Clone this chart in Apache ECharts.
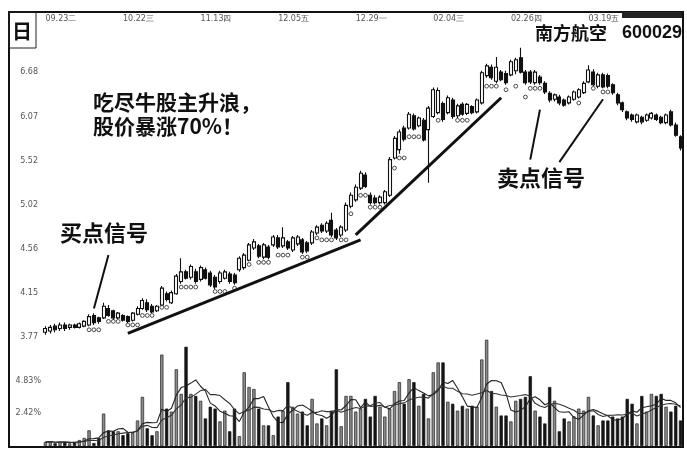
<!DOCTYPE html>
<html><head><meta charset="utf-8">
<script src="https://cdn.jsdelivr.net/npm/echarts@6.0.0/dist/echarts.min.js"></script>
<style>html,body{margin:0;padding:0;background:#fff}#c{width:687px;height:450px}</style>
</head><body><div id="c"></div>
<script>
// ---- data ----
const tickLabels = ['09.23二','10.22三','11.13四','12.05五','12.29一','02.04三','02.26四','03.19五'];
const labelStep = 16;
const priceTicks = [3.77, 4.15, 4.56, 5.02, 5.52, 6.07, 6.68];
const volTicks = [2.42, 4.83];
// [open, close, low, high]
const candles = [
[3.81,3.84,3.79,3.86],[3.82,3.85,3.80,3.87],[3.86,3.83,3.81,3.88],[3.84,3.87,3.82,3.89],[3.87,3.84,3.82,3.89],
[3.85,3.87,3.83,3.88],[3.87,3.85,3.84,3.88],[3.85,3.88,3.84,3.89],[3.86,3.90,3.85,3.91],[3.87,3.94,3.86,3.96],
[3.95,3.89,3.87,3.97],[3.93,3.90,3.88,3.94],[3.93,4.03,3.92,4.06],[4.01,3.95,3.94,4.04],[3.99,3.93,3.91,4.00],
[3.93,3.97,3.92,3.98],[3.95,3.91,3.90,3.96],[3.94,3.90,3.88,3.95],[3.91,3.97,3.90,3.98],[3.96,4.01,3.95,4.03],
[4.01,4.08,4.00,4.10],[4.06,4.00,3.98,4.09],[4.03,3.98,3.97,4.05],[3.99,4.03,3.98,4.04],[4.04,4.19,4.03,4.21],
[4.14,4.09,4.07,4.16],[4.06,4.15,4.05,4.17],[4.14,4.30,4.13,4.32],[4.25,4.34,4.23,4.47],[4.34,4.28,4.27,4.36],
[4.29,4.39,4.27,4.41],[4.34,4.25,4.23,4.37],[4.27,4.38,4.25,4.40],[4.36,4.28,4.27,4.38],[4.33,4.22,4.20,4.35],
[4.29,4.20,4.18,4.31],[4.25,4.33,4.23,4.35],[4.28,4.34,4.27,4.36],[4.32,4.25,4.23,4.34],[4.31,4.24,4.22,4.33],
[4.36,4.47,4.34,4.49],[4.38,4.50,4.36,4.52],[4.45,4.60,4.44,4.62],[4.57,4.63,4.55,4.66],[4.59,4.49,4.47,4.61],
[4.48,4.60,4.46,4.62],[4.58,4.48,4.46,4.60],[4.60,4.68,4.58,4.70],[4.67,4.58,4.56,4.70],[4.59,4.67,4.57,4.78],
[4.63,4.57,4.55,4.65],[4.55,4.67,4.53,4.69],[4.61,4.68,4.59,4.70],[4.65,4.53,4.51,4.67],[4.62,4.54,4.52,4.64],
[4.62,4.73,4.60,4.75],[4.72,4.78,4.70,4.80],[4.80,4.74,4.72,4.82],[4.74,4.82,4.72,4.84],[4.85,4.70,4.68,4.93],
[4.75,4.67,4.65,4.77],[4.70,4.78,4.68,4.80],[4.75,5.01,4.73,5.04],[5.00,5.12,4.98,5.15],[5.07,5.21,5.05,5.24],
[5.20,5.37,5.18,5.40],[5.35,5.22,5.20,5.38],[5.12,5.04,5.02,5.15],[5.09,5.04,5.02,5.12],[5.04,5.10,5.02,5.12],
[5.04,5.16,5.02,5.18],[5.12,5.53,5.10,5.56],[5.55,5.79,5.53,5.82],[5.65,5.87,5.60,5.90],[5.92,5.78,5.75,5.95],
[5.92,6.10,5.90,6.13],[6.08,5.91,5.89,6.11],[5.95,6.05,5.93,6.07],[6.02,5.77,5.75,6.05],[5.90,6.18,5.26,6.21],
[6.07,6.43,6.05,6.46],[6.12,6.42,6.10,6.46],[6.24,6.03,6.00,6.27],[6.12,6.32,6.10,6.35],[6.29,6.07,6.04,6.32],
[6.08,6.21,6.05,6.24],[6.23,6.10,6.08,6.26],[6.11,6.23,6.09,6.25],[6.20,6.12,6.10,6.22],[6.13,6.29,6.11,6.31],
[6.25,6.67,6.23,6.70],[6.63,6.77,6.60,6.80],[6.75,6.60,6.57,6.79],[6.55,6.75,6.52,6.90],[6.68,6.57,6.55,6.71],
[6.66,6.53,6.50,6.70],[6.64,6.83,6.62,6.86],[6.70,6.86,6.65,6.89],[6.89,6.68,6.66,7.04],[6.68,6.53,6.50,6.71],
[6.68,6.54,6.51,6.71],[6.53,6.68,6.50,6.71],[6.61,6.53,6.50,6.64],[6.52,6.40,6.37,6.55],[6.38,6.29,6.26,6.41],
[6.30,6.36,6.27,6.38],[6.33,6.25,6.22,6.36],[6.29,6.22,6.20,6.31],[6.25,6.33,6.23,6.35],[6.30,6.40,6.28,6.42],
[6.33,6.43,6.31,6.45],[6.39,6.52,6.37,6.55],[6.54,6.71,6.52,6.78],[6.68,6.50,6.48,6.72],[6.48,6.64,6.45,6.67],
[6.64,6.47,6.45,6.67],[6.63,6.48,6.45,6.66],[6.50,6.39,6.36,6.52],[6.36,6.25,6.22,6.39],[6.25,6.16,6.13,6.27],
[6.13,6.05,6.02,6.15],[6.09,6.03,6.00,6.11],[6.00,6.09,5.98,6.11],[6.06,6.00,5.97,6.08],[6.02,6.09,6.00,6.11],
[6.05,6.11,6.03,6.13],[6.09,6.03,6.01,6.11],[6.06,5.99,5.97,6.08],[5.99,6.09,5.97,6.11],[6.13,5.96,5.94,6.16],
[5.96,5.83,5.81,5.99],[5.81,5.67,5.64,5.83]
];
// turnover rate (%)
const volumes = [
0.29,0.36,0.2,0.3,0.3,0.2,0.3,0.44,0.6,1.16,
0.22,0.58,2.4,1.16,1.09,1.09,0.8,0.95,0.95,1.89,
3.64,1.31,0.8,1.09,6.77,2.77,2.55,5.68,3.86,7.35,
3.86,3.71,3.35,2.04,2.91,2.77,1.82,2.62,1.09,2.77,
0.73,5.46,4.37,4.22,2.77,1.53,1.53,0.8,2.18,2.62,
4.73,2.91,2.4,2.55,1.53,3.49,1.67,2.04,1.53,2.62,
5.68,1.46,3.71,3.71,2.55,2.77,3.49,2.18,3.71,2.91,
2.18,2.77,4.07,4.73,3.13,4.95,4.73,2.98,3.86,2.04,
5.46,6.19,6.19,3.28,3.13,2.62,2.98,2.77,2.98,2.91,
6.41,7.87,4.07,2.91,2.26,2.26,1.82,3.35,3.49,3.64,
5.17,2.62,2.18,1.67,4.37,3.35,1.09,2.04,1.82,2.2,
2.77,2.62,3.64,2.26,1.53,1.89,1.89,2.18,2.04,2.18,
3.49,3.13,1.67,3.71,2.55,3.86,3.71,3.86,2.91,2.55,
2.98,1.89
];
// stop-and-reverse dots [bar index, price]
const sarDots = [
[9,3.83],[10,3.83],[11,3.83],[13,3.90],[14,3.90],[15,3.90],[17,3.87],[18,3.87],[19,3.87],
[20,3.95],[21,3.95],[22,3.95],[24,4.02],[25,4.02],[28,4.20],[29,4.20],[30,4.20],[31,4.20],
[35,4.16],[36,4.16],[37,4.16],[39,4.19],[42,4.41],[44,4.43],[45,4.43],[46,4.43],
[48,4.50],[49,4.50],[50,4.50],[53,4.48],[54,4.48],[56,4.67],[57,4.65],[58,4.65],[59,4.65],
[61,4.65],[62,4.65],[63,4.92],[65,5.12],[66,5.12],[67,4.99],[68,4.99],[69,4.99],
[72,5.43],[73,5.55],[74,5.55],[75,5.81],[76,5.81],[77,5.81],[81,6.02],[85,6.02],[86,6.02],[87,6.02],
[91,6.48],[92,6.48],[93,6.48],[95,6.43],[97,6.48],[99,6.33],[100,6.45],[101,6.45],[102,6.45],
[110,6.25],[113,6.45],[115,6.40],[116,6.40]
];
// hand-drawn annotation strokes [bar index, price]
const annotationLines = [
  {from:[13,4.50], to:[10,4.01], width:2},
  {from:[17,3.80], to:[65,4.65], width:3},
  {from:[64,4.70], to:[94,6.32], width:3},
  {from:[102,6.16], to:[100,5.53], width:2},
  {from:[115,6.30], to:[106,5.50], width:2}
];
const stockName = '南方航空';
const stockCode = '600029';

// ---- build ----
const ln = Math.log;
const categories = candles.map((_, i) => String(i));
const candleData = candles.map(([o,c,l,h]) => [ln(o), ln(c), ln(l), ln(h)]);
const volData = volumes.map((v, i) => ({
  value: v,
  itemStyle: candles[i][1] >= candles[i][0]
    ? {color:'#8a8a8a', borderColor:'#222', borderWidth:0.7}
    : {color:'#151515', borderColor:'#151515', borderWidth:0.7}
}));
function ma(n) {
  return volumes.map((_, i) => {
    const s = Math.max(0, i - n + 1);
    let sum = 0;
    for (let k = s; k <= i; k++) sum += volumes[k];
    return +(sum / (i - s + 1)).toFixed(3);
  });
}
const lblFont = {fontSize:8, color:'#555', fontFamily:'DejaVu Sans'};

const chart = echarts.init(document.getElementById('c'), null, {renderer:'canvas'});
chart.setOption({
  animation:false,
  backgroundColor:'#ffffff',
  grid:[
    {left:43, right:4, top:30, height:315},
    {left:43, right:4, top:338, height:108}
  ],
  xAxis:[
    {type:'category', data:categories, gridIndex:0, position:'top', boundaryGap:true,
     axisLine:{show:false}, axisTick:{show:false}, splitLine:{show:false},
     axisLabel:Object.assign({
       interval:(i) => i % labelStep === 0,
       formatter:(v) => tickLabels[Number(v) / labelStep] || '',
       align:'left', margin:7}, lblFont)},
    {type:'category', data:categories, gridIndex:1, boundaryGap:true, show:false}
  ],
  yAxis:[
    {type:'value', gridIndex:0, min:1.31, max:1.99, scale:true,
     axisLine:{show:false}, axisTick:{show:false}, splitLine:{show:false},
     axisLabel:Object.assign({customValues:priceTicks.map(ln),
       formatter:(v) => Math.exp(v).toFixed(2), margin:5}, lblFont)},
    {type:'value', gridIndex:1, min:0, max:8,
     axisLine:{show:false}, axisTick:{show:false}, splitLine:{show:false},
     axisLabel:Object.assign({customValues:volTicks,
       formatter:(v) => v.toFixed(2) + '%', margin:2}, lblFont)}
  ],
  series:[
    {type:'candlestick', xAxisIndex:0, yAxisIndex:0, data:candleData, barWidth:3.5,
     itemStyle:{color:'#ffffff', color0:'#111111', borderColor:'#111111', borderColor0:'#111111', borderWidth:1.1},
     emphasis:{disabled:true},
     markLine:{symbol:['none','none'], silent:true, animation:false,
       label:{show:false}, emphasis:{disabled:true},
       data:annotationLines.map(a => [
         {coord:[a.from[0], ln(a.from[1])], lineStyle:{width:a.width, color:'#111', type:'solid'}},
         {coord:[a.to[0], ln(a.to[1])]}
       ])}},
    {type:'scatter', xAxisIndex:0, yAxisIndex:0, data:sarDots.map(([i,p]) => [i, ln(p)]),
     symbol:'circle', symbolSize:3.8,
     itemStyle:{color:'#ffffff', borderColor:'#222', borderWidth:1}, silent:true},
    {type:'bar', xAxisIndex:1, yAxisIndex:1, data:volData, barWidth:3.3, silent:true},
    {type:'line', xAxisIndex:1, yAxisIndex:1, data:ma(5), symbol:'none', silent:true,
     lineStyle:{color:'#222', width:1.1}},
    {type:'line', xAxisIndex:1, yAxisIndex:1, data:ma(10), symbol:'none', silent:true,
     lineStyle:{color:'#333', width:1.1}}
  ],
  graphic:[
    {type:'rect', shape:{x:9, y:12, width:674, height:435}, style:{fill:'none', stroke:'#111', lineWidth:2}, silent:true},
    {type:'rect', shape:{x:9, y:12, width:27, height:36}, style:{fill:'none', stroke:'#222', lineWidth:1}, silent:true},
    {type:'text', x:22, y:31, style:{text:'日', font:'bold 20px "Noto Sans CJK SC"', fill:'#111', align:'center', verticalAlign:'middle'}},
    {type:'rect', shape:{x:622, y:12, width:60, height:6}, style:{fill:'#222'}, silent:true},
    {type:'text', x:607, y:33, style:{text:stockName, font:'bold 18px "Noto Sans CJK SC"', fill:'#111', align:'right', verticalAlign:'middle'}},
    {type:'text', x:682, y:33, style:{text:stockCode, font:'bold 18px "Liberation Sans"', fill:'#111', align:'right', verticalAlign:'middle'}},
    {type:'text', x:93, y:102, style:{text:'吃尽牛股主升浪，', font:'bold 21px "Noto Sans CJK SC"', fill:'#111', verticalAlign:'middle'}},
    {type:'text', x:93, y:126, style:{text:'股价暴涨70%！', font:'bold 21px "Noto Sans CJK SC"', fill:'#111', verticalAlign:'middle'}},
    {type:'text', x:60, y:233, style:{text:'买点信号', font:'bold 22px "Noto Sans CJK SC"', fill:'#111', verticalAlign:'middle'}},
    {type:'text', x:497, y:178, style:{text:'卖点信号', font:'bold 22px "Noto Sans CJK SC"', fill:'#111', verticalAlign:'middle'}}
  ]
});
</script></body></html>
